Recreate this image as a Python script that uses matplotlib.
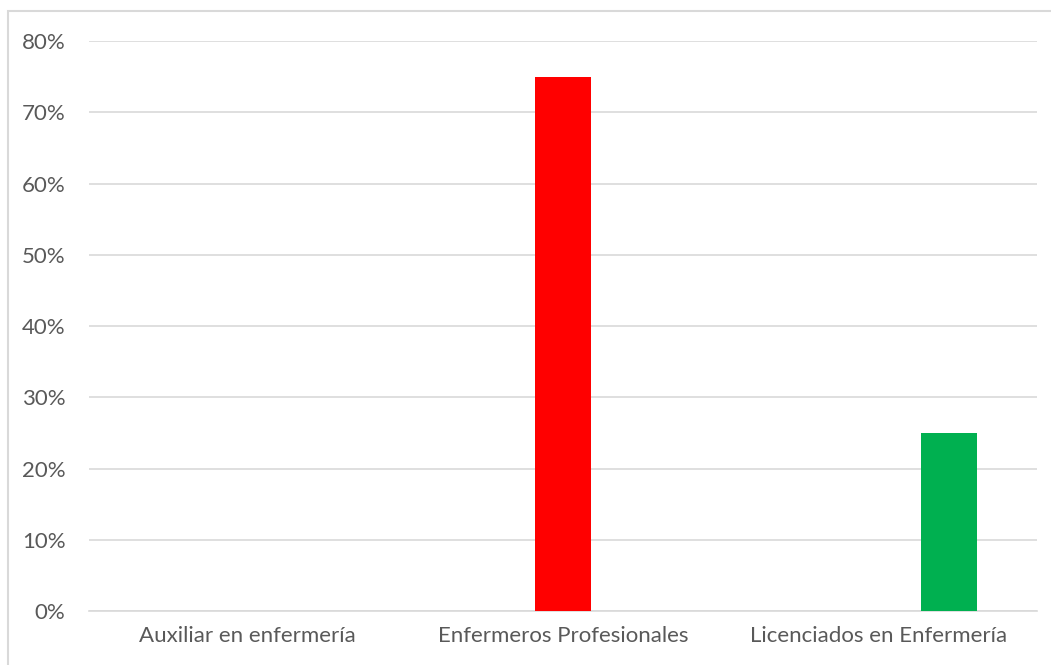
import numpy as np
import matplotlib.pyplot as plt
from matplotlib.patches import Rectangle
from matplotlib.ticker import PercentFormatter

plt.rcParams['font.family'] = ['Lato', 'DejaVu Sans']

categories = ['Auxiliar en enfermería', 'Enfermeros Profesionales', 'Licenciados en Enfermería']
values = [0.0, 0.75, 0.25]
colors = ['#4472c4', '#ff0000', '#00b050']
offsets = [0.0, 0.0, 0.22]   # green bar sits right of its slot centre in the original
yticks = np.arange(0, 0.81, 0.1)

fig = plt.figure(figsize=(10.51, 6.65), dpi=100)
ax = fig.add_axes([0.0847, 0.0812, 0.902, 0.8571])

x = np.arange(len(categories)) + np.array(offsets)
ax.bar(x, values, width=0.177, color=colors, zorder=3)

ax.set_xlim(-0.5, 2.5)
ax.set_ylim(0, 0.8)
ax.set_yticks(yticks)
ax.yaxis.set_major_formatter(PercentFormatter(1.0, decimals=0))
ax.set_xticks(np.arange(len(categories)))
ax.set_xticklabels(categories)

ax.grid(axis='y', color='#d9d9d9', linewidth=1.2, zorder=0)
for s in ['top', 'right', 'left']:
    ax.spines[s].set_visible(False)
ax.spines['bottom'].set_color('#d9d9d9')
ax.spines['bottom'].set_linewidth(1.2)
ax.tick_params(axis='both', length=0, labelsize=16, colors='#595959')
ax.tick_params(axis='y', pad=17)
ax.tick_params(axis='x', pad=11)

# chart frame, running off the right and bottom edges
fig.patches.append(Rectangle((8 / 1051, -0.05), 1.1, 1 - 11 / 665 + 0.05,
                             transform=fig.transFigure, fill=False,
                             edgecolor='#d9d9d9', linewidth=1.5))

fig.savefig('out.png', dpi=100)
